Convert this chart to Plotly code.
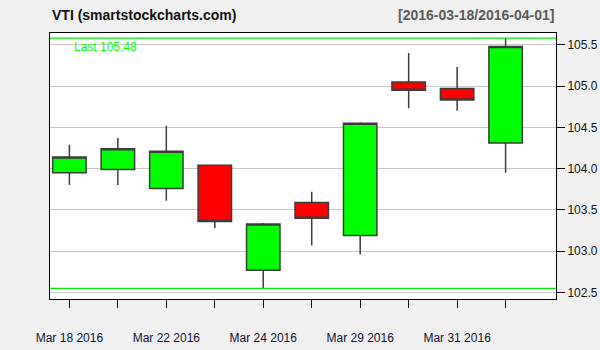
import plotly.graph_objects as go

# ---- data ----
dates = ["Mar 18 2016", "Mar 21 2016", "Mar 22 2016", "Mar 23 2016", "Mar 24 2016",
         "Mar 28 2016", "Mar 29 2016", "Mar 30 2016", "Mar 31 2016", "Apr 01 2016"]
opens = [103.95, 103.99, 103.76, 104.04, 102.77, 103.59, 103.19, 105.05, 104.97, 104.31]
highs = [104.29, 104.37, 104.52, 104.04, 103.34, 103.72, 104.56, 105.40, 105.23, 105.58]
lows = [103.80, 103.80, 103.61, 103.28, 102.55, 103.07, 102.96, 104.73, 104.70, 103.95]
closes = [104.14, 104.24, 104.21, 103.36, 103.33, 103.40, 104.55, 104.95, 104.83, 105.48]
label_every = 2
y_ticks = [102.5, 103.0, 103.5, 104.0, 104.5, 105.0, 105.5]

idx = list(range(len(dates)))
ticktext = [d if i % label_every == 0 else "" for i, d in enumerate(dates)]

fig = go.Figure()
fig.add_trace(go.Candlestick(
    x=idx, open=opens, high=highs, low=lows, close=closes,
    increasing=dict(fillcolor="#00ff00", line=dict(color="#3c3c3c", width=1.5)),
    decreasing=dict(fillcolor="#ff0000", line=dict(color="#3c3c3c", width=1.5)),
    whiskerwidth=0, showlegend=False, hoverinfo="skip",
))

# high / low range lines
for yv in (max(highs), min(lows)):
    fig.add_shape(type="line", xref="paper", x0=0, x1=1, yref="y", y0=yv, y1=yv,
                  line=dict(color="#00ee00", width=1.3), layer="above")

fig.add_annotation(text=f"Last {closes[-1]:.2f}", xref="paper", x=0.043, xanchor="left",
                   yref="y", y=max(highs), yanchor="top", yshift=0, showarrow=False,
                   font=dict(family="Liberation Sans, Arial", size=12, color="#00ff00"))

fig.add_annotation(text="<b>VTI (smartstockcharts.com)</b>", xref="paper", x=0, xanchor="left",
                   yref="paper", y=1, yanchor="bottom", yshift=8, showarrow=False,
                   font=dict(family="Liberation Sans, Arial", size=14, color="#111111"))
fig.add_annotation(text="<b>[2016-03-18/2016-04-01]</b>", xref="paper", x=1, xanchor="right",
                   yref="paper", y=1, yanchor="bottom", yshift=8, showarrow=False,
                   font=dict(family="Liberation Sans, Arial", size=14, color="#5a5a5a"))

fig.update_layout(
    width=600, height=350,
    margin=dict(l=50, r=44, t=33, b=51, autoexpand=False),
    paper_bgcolor="#f0f0f0", plot_bgcolor="#ffffff",
    boxgap=0.31, boxgroupgap=0,
    font=dict(family="Liberation Sans, Arial", size=12, color="#111111"),
)
fig.update_xaxes(
    range=[-0.40, 10.04], tickmode="array", tickvals=idx, ticktext=ticktext,
    ticks="outside", ticklen=8, tickcolor="#000000", tickwidth=1,
    showgrid=False, zeroline=False, rangeslider=dict(visible=False),
    showline=True, linecolor="#000000", linewidth=1, mirror=True, automargin=False,
    ticklabelstandoff=20, tickfont=dict(size=12, color="#111133"),
)
fig.update_yaxes(
    range=[102.421, 105.642], side="right", tickmode="array", tickvals=y_ticks,
    ticktext=[f"{v:.1f}" for v in y_ticks],
    ticks="outside", ticklen=8, tickcolor="#000000", tickwidth=1,
    showgrid=True, gridcolor="#c8c8c8", gridwidth=1, zeroline=False,
    showline=True, linecolor="#000000", linewidth=1, mirror=True, automargin=False,
    tickfont=dict(size=12, color="#111111"),
)

fig.write_html("out.html")
